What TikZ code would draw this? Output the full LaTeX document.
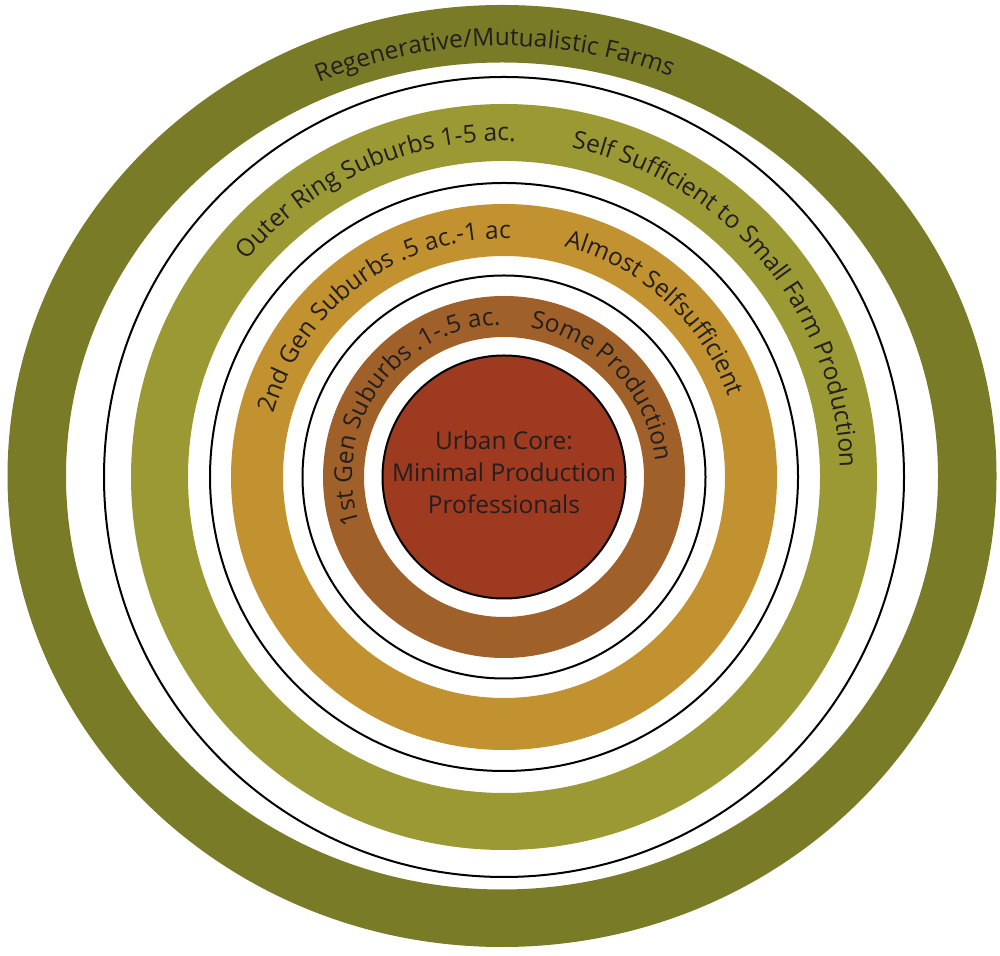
\documentclass[tikz,border=0pt]{standalone}
\usepackage{fontspec}
\setmainfont{Open Sans}
\usetikzlibrary{decorations.text}
\definecolor{farmc}{HTML}{7A7B27}
\definecolor{outerc}{HTML}{9A9934}
\definecolor{secondc}{HTML}{C1922F}
\definecolor{firstc}{HTML}{A0602A}
\definecolor{corec}{HTML}{9D3A20}
\definecolor{txtc}{HTML}{231F20}
\newcommand\lblfont{\fontsize{24.5}{28}\selectfont\color{txtc}}
\begin{document}
\begin{tikzpicture}[x=1pt,y=1pt,
  ringline/.style={draw=black, line width=2pt},
  lbl/.style={decorate, decoration={text along path, text align=center, text={|\lblfont|#1}}}]
\useasboundingbox (0,0) rectangle (1000,955);
\coordinate (C) at (504,478);
\coordinate (Co) at (502,479);
% rings
\fill[farmc, even odd rule] (Co) ellipse[x radius=494.5, y radius=471] (Co) ellipse[x radius=436, y radius=413.5];
\draw[ringline] (C) circle[radius=400];
\fill[outerc, even odd rule] (C) circle[radius=373] (C) circle[radius=316];
\draw[ringline] (C) circle[radius=294];
\fill[secondc, even odd rule] (C) circle[radius=273] (C) circle[radius=221];
\draw[ringline] (C) circle[radius=201.5];
\fill[firstc, even odd rule] (C) circle[radius=181] (C) circle[radius=140];
\node[circle, minimum size=243pt, inner sep=0pt, fill=corec, draw=black, line width=2pt] (core) at (C) {};
\node[align=center, font=\fontsize{24.5}{32}\selectfont, text=txtc] (coretext) at ([yshift=5pt]C) {Urban Core:\\Minimal Production\\Professionals};
% labels
\path[lbl={Regenerative/Mutualistic Farms}] ([shift={(Co)}]151:453 and 430) arc[start angle=151, end angle=31, x radius=453, y radius=430];
\path[lbl={Outer Ring Suburbs 1-5 ac.}] ([shift={(C)}]189:336) arc[start angle=189, end angle=39, radius=336];
\path[lbl={Self Sufficient to Small Farm Production}] ([shift={(C)}]120:336) arc[start angle=120, end angle=-40, radius=336];
\path[lbl={2nd Gen Suburbs .5 ac.-1 ac}] ([shift={(C)}]216.5:238.5) arc[start angle=216.5, end angle=36.5, radius=238.5];
\path[lbl={Almost Selfsufficient}] ([shift={(C)}]120:238.5) arc[start angle=120, end angle=-25, radius=238.5];
\path[lbl={1st Gen Suburbs .1-.5 ac.}] ([shift={(C)}]244.5:152) arc[start angle=244.5, end angle=44.5, radius=152];
\path[lbl={Some Production}] ([shift={(C)}]123:152) arc[start angle=123, end angle=-37, radius=152];
\end{tikzpicture}
\end{document}
